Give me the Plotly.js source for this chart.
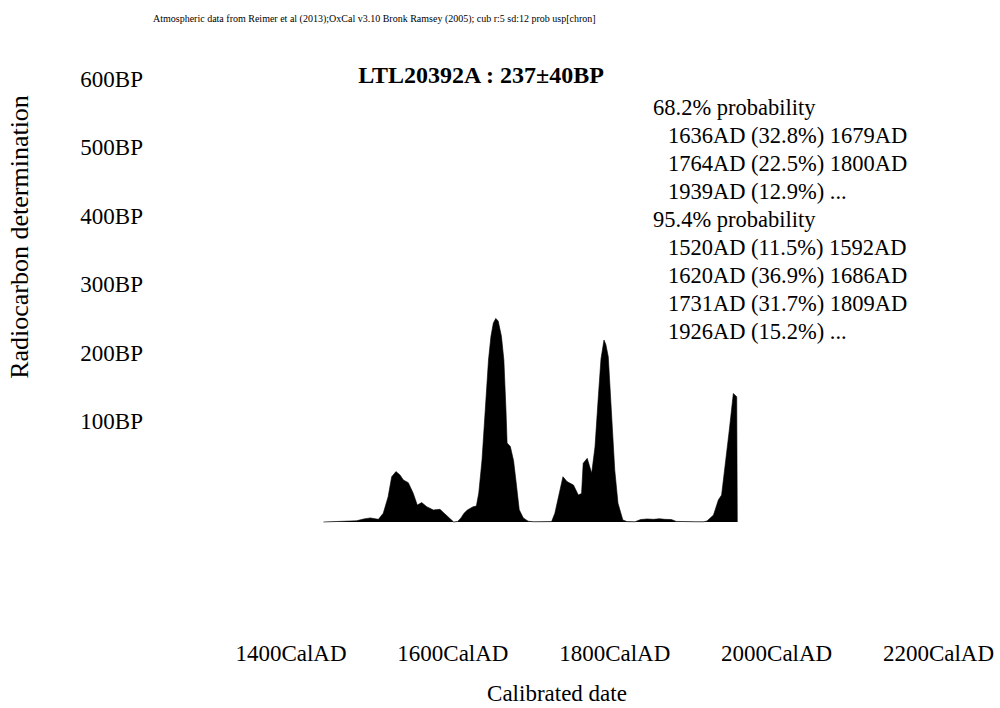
<!DOCTYPE html>
<html>
<head>
<meta charset="utf-8">
<script src="https://cdn.plot.ly/plotly-3.0.1.min.js"></script>
<style>html,body{margin:0;padding:0;background:#fff}</style>
</head>
<body>
<div id="chart" style="width:1000px;height:708px"></div>
<script>
// ---- data ----
const sampleTitle = "LTL20392A : 237±40BP";
const sourceNote = "Atmospheric data from Reimer et al (2013);OxCal v3.10 Bronk Ramsey (2005); cub r:5 sd:12 prob usp[chron]";

const calYears = [1440,1455,1470,1481,1490,1498,1508,1514,1520,1524.4,1529.7,1534.7,1538.8,1544.9,1551,1556,1561.5,1567.7,1575.8,1584,1590.3,1598.5,1601,
  1606,1610,1614,1618,1625,1629,1632,1636,1640,1644,1647,1650,1653,1656,1660,1663,1665.6,1667,1671,1675,1678,1682,1687,1693,1700,
  1710,1722,1726,1732,1736,1741,1749,1755,1759,1761,1766,1771.5,1775.6,1779.7,1783,1786.7,1789,1792,1796,1800,1804,1810,1815,
  1825,1832,1840,1848,1855,1862,1870,1876,1885,1900,1910,1914,1922,1928,1932,1936,1941.5,1946.5,1950.7,1951.4];
const probDensity = [0,0.002,0.004,0.006,0.015,0.02,0.013,0.043,0.124,0.222,0.247,0.23,0.206,0.193,0.141,0.083,0.095,0.075,0.059,0.062,0.039,0.006,0,
  0.003,0.02,0.044,0.059,0.075,0.078,0.142,0.304,0.549,0.794,0.909,0.975,0.998,0.985,0.91,0.794,0.549,0.387,0.37,0.3,0.2,0.06,0.02,0.004,0.001,
  0.001,0.002,0.043,0.157,0.222,0.198,0.181,0.132,0.14,0.288,0.312,0.239,0.369,0.614,0.8,0.892,0.87,0.81,0.533,0.255,0.092,0.01,0.002,
  0.001,0.012,0.015,0.013,0.016,0.013,0.012,0.003,0.001,0.001,0.001,0.005,0.034,0.108,0.132,0.255,0.45,0.63,0.614,0];

const xTickVals = [1400,1600,1800,2000,2200];
const xTickText = ["1400CalAD","1600CalAD","1800CalAD","2000CalAD","2200CalAD"];
const yTickVals = [100,200,300,400,500,600];
const yTickText = ["100BP","200BP","300BP","400BP","500BP","600BP"];

const rangeLines = ["68.2% probability","1636AD (32.8%) 1679AD","1764AD (22.5%) 1800AD","1939AD (12.9%) ...",
  "95.4% probability","1520AD (11.5%) 1592AD","1620AD (36.9%) 1686AD","1731AD (31.7%) 1809AD","1926AD (15.2%) ..."];

// ---- layout geometry (pixels) ----
const W = 1000, H = 708;
const L = 146, R = 32, T = 10, B = 68;
const plotH = H - T - B;
const plotW = W - L - R;
const py = p => (H - B - p) / plotH;      // pixel y -> paper fraction
const px = p => (p - L) / plotW;          // pixel x -> paper fraction

const FONT = "Liberation Serif, Times New Roman, serif";

const dist = {
  x: calYears, y: probDensity, xaxis: 'x', yaxis: 'y2',
  type: 'scatter', mode: 'lines', fill: 'tozeroy',
  fillcolor: '#000', line: {color: '#000', width: 0.6},
  hoverinfo: 'skip', showlegend: false
};
const bpAxisHolder = {x: [], y: [], xaxis: 'x', yaxis: 'y', type: 'scatter', mode: 'markers', showlegend: false, hoverinfo: 'skip'};

const annotations = [{
  text: sourceNote, xref: 'paper', yref: 'paper', x: px(151), y: py(19),
  xanchor: 'left', yanchor: 'middle', showarrow: false,
  font: {family: FONT, size: 10, color: '#000'}
}];
rangeLines.forEach((t, i) => {
  const header = t.indexOf('probability') >= 0;
  annotations.push({
    text: t, xref: 'paper', yref: 'paper',
    x: px(header ? 651 : 666), y: py(107.5 + i * 28),
    xanchor: 'left', yanchor: 'middle', showarrow: false,
    font: {family: FONT, size: 22.5, color: '#000'}
  });
});

const layout = {
  width: W, height: H,
  margin: {l: L, r: R, t: T, b: B, pad: 0},
  paper_bgcolor: '#fff', plot_bgcolor: '#fff',
  showlegend: false,
  font: {family: FONT, color: '#000'},
  title: {
    text: sampleTitle, x: 0.481, xanchor: 'center', xref: 'container',
    y: 1 - 75 / H, yanchor: 'middle', yref: 'container',
    font: {family: FONT, size: 24, weight: 'bold', color: '#000'}
  },
  xaxis: {
    range: [1400 - (291 - L) / 0.809375, 2200 + (W - R - 938.5) / 0.809375],
    anchor: 'y2',
    tickmode: 'array', tickvals: xTickVals, ticktext: xTickText,
    ticks: '', showgrid: false, zeroline: false, showline: false,
    ticklabelstandoff: -3,
    tickfont: {family: FONT, size: 23, color: '#000'},
    title: {text: 'Calibrated date', font: {family: FONT, size: 23, color: '#000'}, standoff: 19},
    fixedrange: true
  },
  yaxis: {
    domain: [py(464), 1],
    range: [100 - (464 - 421) / 0.684, 600 + (79 - 10) / 0.684],
    anchor: 'x',
    tickmode: 'array', tickvals: yTickVals, ticktext: yTickText,
    ticks: '', showgrid: false, zeroline: false, showline: false,
    ticklabelstandoff: 2,
    tickfont: {family: FONT, size: 23, color: '#000'},
    title: {text: 'Radiocarbon determination', font: {family: FONT, size: 26, color: '#000'}, standoff: 44},
    fixedrange: true
  },
  yaxis2: {
    domain: [0, 1],
    range: [-(H - B - 522) / 204, (522 - T) / 204],
    anchor: 'x',
    showticklabels: false, ticks: '', showgrid: false, zeroline: false, showline: false,
    fixedrange: true
  },
  annotations: annotations
};

Plotly.newPlot('chart', [bpAxisHolder, dist], layout, {displayModeBar: false, staticPlot: true});
</script>
</body>
</html>
